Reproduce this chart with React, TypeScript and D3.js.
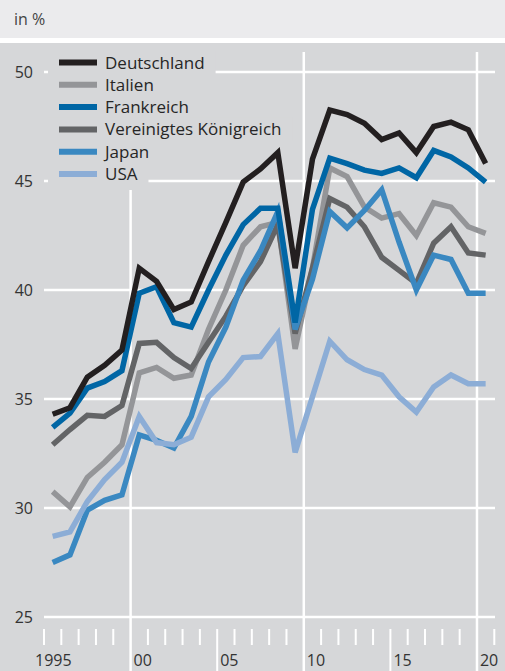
import React, { useRef, useEffect } from "react";
import { select, scaleLinear, line } from "d3";

const years = [
  1995, 1996, 1997, 1998, 1999, 2000, 2001, 2002, 2003, 2004, 2005, 2006, 2007,
  2008, 2009, 2010, 2011, 2012, 2013, 2014, 2015, 2016, 2017, 2018, 2019, 2020,
];

const deutschland = [34.3, 34.6, 36.0, 36.55, 37.25, 41.0, 40.4, 39.1, 39.45, 41.3, 43.1, 44.95, 45.55, 46.3, 41.0, 46.0, 48.25, 48.05, 47.65, 46.9, 47.2, 46.3, 47.5, 47.7, 47.35, 45.8];
const italien = [30.75, 30.05, 31.4, 32.1, 32.9, 36.2, 36.45, 35.95, 36.1, 38.2, 40.0, 42.05, 42.9, 43.1, 37.3, 41.0, 45.6, 45.2, 43.8, 43.3, 43.5, 42.5, 44.0, 43.8, 42.9, 42.6];
const frankreich = [33.7, 34.35, 35.5, 35.8, 36.3, 39.85, 40.15, 38.5, 38.3, 40.0, 41.6, 43.0, 43.75, 43.75, 38.5, 43.7, 46.05, 45.8, 45.5, 45.35, 45.6, 45.15, 46.4, 46.1, 45.6, 44.95];
const vereinigtesKoenigreich = [32.9, 33.6, 34.25, 34.2, 34.7, 37.55, 37.6, 36.9, 36.4, 37.6, 38.8, 40.2, 41.3, 43.0, 38.0, 41.0, 44.2, 43.8, 42.9, 41.5, 40.9, 40.3, 42.15, 42.9, 41.7, 41.6];
const japan = [27.5, 27.85, 29.9, 30.35, 30.6, 33.35, 33.1, 32.75, 34.2, 36.7, 38.3, 40.45, 41.8, 43.6, 38.2, 40.5, 43.6, 42.85, 43.65, 44.6, 42.2, 40.0, 41.6, 41.4, 39.85, 39.85];
const usa = [28.7, 28.9, 30.3, 31.3, 32.1, 34.2, 33.0, 32.9, 33.25, 35.1, 35.9, 36.9, 36.95, 38.0, 32.55, 35.1, 37.65, 36.8, 36.35, 36.1, 35.1, 34.4, 35.55, 36.1, 35.7, 35.7];

const series = [
  { name: "Deutschland", values: deutschland, color: "#231f20" },
  { name: "Italien", values: italien, color: "#949598" },
  { name: "Frankreich", values: frankreich, color: "#0066a5" },
  { name: "Vereinigtes Königreich", values: vereinigtesKoenigreich, color: "#636466" },
  { name: "Japan", values: japan, color: "#3a88c1" },
  { name: "USA", values: usa, color: "#8cadd6" },
];
// order in which lines are stacked (last on top)
const drawOrder = ["Italien", "Vereinigtes Königreich", "Japan", "Frankreich", "Deutschland", "USA"];

const yTicks = [25, 30, 35, 40, 45, 50];
const xLabels = [
  { year: 1995, label: "1995" },
  { year: 2000, label: "00" },
  { year: 2005, label: "05" },
  { year: 2010, label: "10" },
  { year: 2015, label: "15" },
  { year: 2020, label: "20" },
];
const gridYears = [2000, 2010, 2020];
const longTickYears = [2005, 2015];

const W = 505;
const H = 671;
const BG = "#d6d7d9";
const FONT = "'Open Sans', 'Noto Sans', sans-serif";

function LineChart() {
  const svgRef = useRef<SVGSVGElement>(null);

  useEffect(() => {
    const svg = select(svgRef.current);
    svg.selectAll("*").remove();

    const x = scaleLinear().domain([1995, 2021]).range([44, 494.3]);
    const y = scaleLinear().domain([25, 50]).range([617, 72]);

    // backgrounds
    svg.append("rect").attr("width", W).attr("height", 38).attr("fill", "#ebebed");
    svg.append("rect").attr("y", 38).attr("width", W).attr("height", 5).attr("fill", "#fff");
    svg.append("rect").attr("y", 43).attr("width", W).attr("height", H - 43).attr("fill", BG);

    svg
      .append("text")
      .attr("x", 14)
      .attr("y", 25)
      .attr("font-size", 16)
      .attr("fill", "#444")
      .attr("font-family", FONT)
      .text("in %");

    // grid
    const grid = svg.append("g");
    grid
      .selectAll(".hgrid")
      .data(yTicks)
      .join("line")
      .attr("x1", 44)
      .attr("x2", 495)
      .attr("y1", (d) => y(d))
      .attr("y2", (d) => y(d))
      .attr("stroke", "#fff")
      .attr("stroke-width", 2.5);

    grid
      .selectAll(".vgrid")
      .data(gridYears)
      .join("line")
      .attr("x1", (d) => x(d))
      .attr("x2", (d) => x(d))
      .attr("y1", 52)
      .attr("y2", H)
      .attr("stroke", "#fff")
      .attr("stroke-width", 2.5);

    const tickYears = [];
    for (let yr = 1995; yr <= 2021; yr++) tickYears.push(yr);
    grid
      .selectAll(".tick")
      .data(tickYears.filter((d) => !gridYears.includes(d)))
      .join("line")
      .attr("x1", (d) => x(d))
      .attr("x2", (d) => x(d))
      .attr("y1", 629)
      .attr("y2", (d) => (longTickYears.includes(d) ? H : 645))
      .attr("stroke", "#fff")
      .attr("stroke-width", 2);

    // axis labels
    svg
      .append("g")
      .selectAll("text")
      .data(yTicks)
      .join("text")
      .attr("x", 33)
      .attr("y", (d) => y(d) + 6)
      .attr("text-anchor", "end")
      .attr("font-size", 16)
      .attr("font-family", FONT)
      .attr("fill", "#333")
      .text((d) => d);

    svg
      .append("g")
      .selectAll("text")
      .data(xLabels)
      .join("text")
      .attr("x", (d) => (d.year === 1995 ? x(d.year) - 9 : x(d.year) + 3))
      .attr("y", 666)
      .attr("font-size", 16)
      .attr("font-family", FONT)
      .attr("fill", "#333")
      .text((d) => d.label);

    // legend
    const legend = svg.append("g");
    const rowY = (i) => 62.5 + i * 22.3;
    const items = legend
      .selectAll("g")
      .data(series)
      .join("g");
    const masks = items.append("rect").attr("fill", BG);
    items
      .append("line")
      .attr("x1", 59)
      .attr("x2", 97)
      .attr("y1", (d, i) => rowY(i))
      .attr("y2", (d, i) => rowY(i))
      .attr("stroke", (d) => d.color)
      .attr("stroke-width", 6);
    const labels = items
      .append("text")
      .attr("x", 105)
      .attr("y", (d, i) => rowY(i) + 6)
      .attr("font-size", 17)
      .attr("font-family", FONT)
      .attr("fill", "#262626")
      .text((d) => d.name);
    const widths = [];
    labels.each(function () {
      widths.push((this as SVGTextElement).getComputedTextLength());
    });
    masks
      .attr("x", 48)
      .attr("y", (d, i) => rowY(i) - 11.5)
      .attr("width", (d, i) => 105 + widths[i] + 11 - 48)
      .attr("height", (d, i) => (i === series.length - 1 ? 190 - (rowY(i) - 11.5) : 23));

    // lines
    const path = line<number>()
      .x((d, i) => x(years[i] + 0.5))
      .y((d) => y(d));

    const plot = svg.append("g");
    drawOrder.forEach((name) => {
      const s = series.find((d) => d.name === name);
      plot
        .append("path")
        .attr("d", path(s.values))
        .attr("fill", "none")
        .attr("stroke", s.color)
        .attr("stroke-width", 5.5)
        .attr("stroke-linejoin", "miter");
    });
  }, []);

  return <svg ref={svgRef} width={W} height={H} style={{ position: "absolute", left: 0, top: 0 }} />;
}

export default function App() {
  return <LineChart />;
}
